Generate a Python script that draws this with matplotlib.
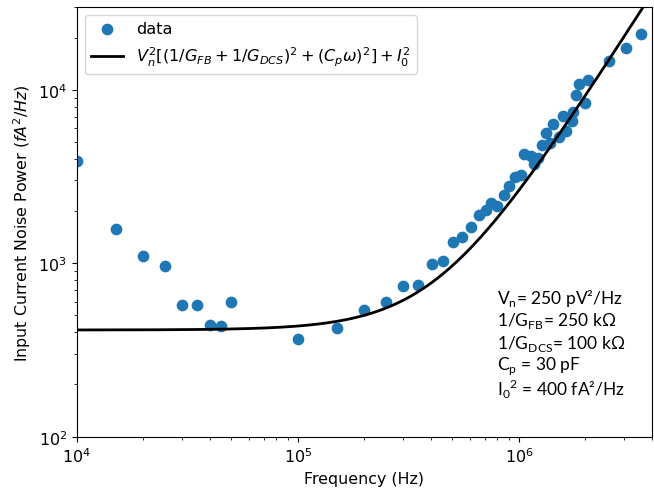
import numpy as np
import matplotlib
matplotlib.use("Agg")
import matplotlib.pyplot as plt

# ---- data ----
freq_hz = [1.0e4, 1.5e4, 2.0e4, 2.5e4, 3.0e4, 3.5e4, 4.0e4, 4.5e4, 5.0e4,
           1.0e5, 1.5e5, 2.0e5, 2.5e5,
           3.0e5, 3.5e5, 4.05e5, 4.55e5, 5.05e5, 5.55e5, 6.05e5, 6.6e5, 7.1e5,
           7.5e5, 8.0e5, 8.6e5, 9.05e5, 9.6e5, 1.02e6,
           1.06e6, 1.14e6, 1.17e6, 1.22e6, 1.27e6, 1.33e6, 1.38e6, 1.42e6,
           1.52e6, 1.59e6, 1.63e6, 1.73e6, 1.76e6, 1.81e6, 1.87e6, 1.99e6,
           2.05e6, 2.55e6, 3.04e6, 3.56e6]
noise_power = [3880, 1576, 1108, 964, 578, 573, 443, 436, 594,
               365, 423, 538, 599,
               740, 750, 996, 1031, 1333, 1416, 1618, 1888, 2018,
               2234, 2138, 2472, 2786, 3155, 3222,
               4241, 4150, 3733, 4060, 4776, 5655, 4910, 6310,
               5360, 7050, 5780, 6590, 7430, 9270, 10860, 8410,
               11450, 14690, 17520, 20990]

# model parameters (shown in the text box)
Vn = 250e-12          # V/sqrt(Hz)
R_FB = 250e3          # ohm
R_DCS = 100e3         # ohm
Cp = 30e-12           # F
I0_sq = 400.0         # fA^2/Hz

annotation_lines = [
    r"V$_\mathrm{n}$= 250 pV²/Hz",
    r"1/G$_\mathrm{FB}$= 250 kΩ",
    r"1/G$_\mathrm{DCS}$= 100 kΩ",
    r"C$_\mathrm{p}$ = 30 pF",
    r"I$_\mathrm{0}$$^\mathrm{2}$ = 400 fA²/Hz",
]

plt.rcParams['font.size'] = 11.4
plt.rcParams['mathtext.fontset'] = 'dejavusans'
plt.rcParams['mathtext.rm'] = 'Lato'

fig = plt.figure(figsize=(6.54, 4.89), dpi=100)
ax = fig.add_axes([76.7 / 654, 1 - 437.7 / 489, (652 - 76.7) / 654, (437.7 - 8) / 489])

ax.scatter(freq_hz, noise_power, s=55, color='#1f77b4', label='data', zorder=2)

f = np.logspace(4, np.log10(4e6), 500)
w = 2 * np.pi * f
model = (Vn ** 2 * ((1 / R_FB + 1 / R_DCS) ** 2 + (Cp * w) ** 2)) / 1e-30 + I0_sq
ax.plot(f, model, color='black', lw=2,
        label=r'$V_n^2[(1/G_{FB}+1/G_{DCS})^2+(C_p\omega)^2]+I_0^2$', zorder=3)

ax.set_xscale('log')
ax.set_yscale('log')
ax.set_xlim(1e4, 4e6)
ax.set_ylim(1e2, 3e4)
ax.set_xlabel('Frequency (Hz)')
ax.set_ylabel(r'Input Current Noise Power ($fA^2/Hz$)')

leg = ax.legend(loc='upper left', fontsize=11.6)

y0 = 0.325
for i, line in enumerate(annotation_lines):
    ax.text(0.73, y0 - i * 0.053, line, transform=ax.transAxes,
            fontsize=12.5, family=['Lato', 'DejaVu Sans'],
            math_fontfamily='custom', va='center', ha='left')

fig.savefig('out.png', dpi=100)
